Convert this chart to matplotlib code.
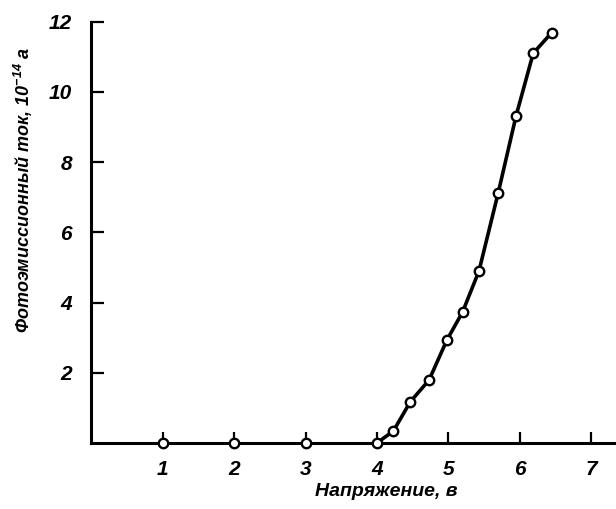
import matplotlib
matplotlib.use("Agg")
import matplotlib.pyplot as plt
from matplotlib import font_manager

# measured points: voltage (V) vs photoemission current (1e-14 A)
voltage = [1, 2, 3, 4, 4.23, 4.47, 4.73, 4.98, 5.20, 5.43, 5.70, 5.95, 6.19, 6.45]
current = [0, 0, 0, 0, 0.34, 1.18, 1.79, 2.93, 3.73, 4.90, 7.13, 9.32, 11.10, 11.69]

x_ticks = [1, 2, 3, 4, 5, 6, 7]
y_ticks = [2, 4, 6, 8, 10, 12]

x_label = "Напряжение, в"
y_label = "Фотоэмиссионный ток, $10^{-14}$ а"

names = {f.name for f in font_manager.fontManager.ttflist}
fam = "Liberation Sans Narrow" if "Liberation Sans Narrow" in names else "Liberation Sans"
plt.rcParams['font.family'] = [fam, 'DejaVu Sans']
plt.rcParams['mathtext.fontset'] = 'custom'
plt.rcParams['mathtext.rm'] = fam + ':bold:italic'
plt.rcParams['mathtext.it'] = fam + ':bold:italic'
plt.rcParams['mathtext.bf'] = fam + ':bold:italic'

fig = plt.figure(figsize=(6.16, 5.09), dpi=100)
ax = fig.add_axes([0.1485, 0.1297, 0.8515, 0.8277])

# curve starts at the last zero point (4 V)
ax.plot(voltage[3:], current[3:], color='black', lw=2.6, solid_capstyle='round',
        solid_joinstyle='round', zorder=2)
ax.plot(voltage, current, 'o', ms=6.8, mfc='white', mec='black', mew=1.7, zorder=3, clip_on=False)

ax.set_xlim(0, 7.35)
ax.set_ylim(0, 12)
ax.spines['top'].set_visible(False)
ax.spines['right'].set_visible(False)
for s in ['left', 'bottom']:
    ax.spines[s].set_linewidth(2.2)

ax.set_xticks(x_ticks)
ax.set_yticks(y_ticks)
ax.tick_params(axis='x', direction='in', length=8, width=1.6, pad=12)
ax.tick_params(axis='y', direction='in', length=9, width=1.6, pad=14)
for lab in ax.get_xticklabels() + ax.get_yticklabels():
    lab.set_fontsize(15)
    lab.set_fontstyle('italic')
    lab.set_fontweight('bold')

fig.text(386 / 616, 1 - 492 / 509, x_label, ha='center', va='center',
         fontsize=14, style='italic', weight='bold')
fig.text(23 / 616, 1 - 190 / 509, y_label, ha='center', va='center', rotation=90,
         fontsize=13, style='italic', weight='bold')

fig.savefig("out.png", dpi=100)
